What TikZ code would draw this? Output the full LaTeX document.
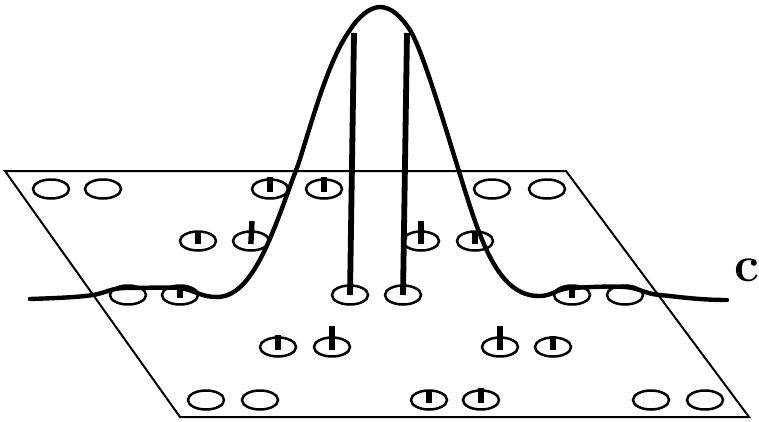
\documentclass[tikz,border=0pt]{standalone}
\usepackage{xcolor}
\usetikzlibrary{shapes.geometric}

\begin{document}
\begin{tikzpicture}[
      x=1pt, y=-1pt,
      hole/.style={draw, ellipse, line width=2.5pt, inner sep=0pt, minimum width=36pt, minimum height=19pt},
      stem/.style={line width=5.4pt, shorten <=-3pt},
      pillar/.style={line width=5.8pt},
      plate/.style={line width=2pt, line join=miter},
      curve/.style={line width=4.4pt, line cap=round, line join=round}
    ]
    \useasboundingbox (0,0) rectangle (759,421);

    \draw[plate] (5,171) -- (566,171) -- (749,417) -- (180,417) -- cycle;

    % rows of holes, back to front
    \node[hole] (a1) at (51,189) {};
    \node[hole] (a2) at (103,189) {};
    \node[hole] (a3) at (270,189) {};
    \node[hole] (a4) at (324,189) {};
    \node[hole] (a5) at (492,189) {};
    \node[hole] (a6) at (547,189) {};

    \node[hole] (b1) at (198,241) {};
    \node[hole] (b2) at (251,241) {};
    \node[hole] (b3) at (421,241) {};
    \node[hole] (b4) at (475,241) {};

    \node[hole] (m1) at (128,295) {};
    \node[hole] (m2) at (180,295) {};
    \node[hole] (m3) at (350,295) {};
    \node[hole] (m4) at (403,295) {};
    \node[hole] (m5) at (572,295) {};
    \node[hole] (m6) at (625,295) {};

    \node[hole] (d1) at (278,347) {};
    \node[hole] (d2) at (332,347) {};
    \node[hole] (d3) at (500,347) {};
    \node[hole] (d4) at (553,347) {};

    \node[hole] (e1) at (206,400) {};
    \node[hole] (e2) at (260,400) {};
    \node[hole] (e3) at (429,400) {};
    \node[hole] (e4) at (481,400) {};
    \node[hole] (e5) at (651,400) {};
    \node[hole] (e6) at (705,400) {};

    % stem tips
    \coordinate (ta3) at (270,177);
    \coordinate (ta4) at (324,177);
    \coordinate (tb1) at (198,231);
    \coordinate (tb2) at (252,221);
    \coordinate (tb3) at (421,221);
    \coordinate (tb4) at (475,231);
    \coordinate (tm2) at (180,289);
    \coordinate (tm5) at (572,287);
    \coordinate (td1) at (278,335);
    \coordinate (td2) at (332,326);
    \coordinate (td3) at (500,326);
    \coordinate (td4) at (553,336);
    \coordinate (te3) at (429,390);
    \coordinate (te4) at (481,388);
    \coordinate (tm3) at (354,33);
    \coordinate (tm4) at (407,33);

    \draw[stem] (a3.center) -- (ta3);
    \draw[stem] (a4.center) -- (ta4);
    \draw[stem] (b1.center) -- (tb1);
    \draw[stem] (b2.center) -- (tb2);
    \draw[stem] (b3.center) -- (tb3);
    \draw[stem] (b4.center) -- (tb4);
    \draw[stem] (m2.center) -- (tm2);
    \draw[stem] (m5.center) -- (tm5);
    \draw[stem] (d1.center) -- (td1);
    \draw[stem] (d2.center) -- (td2);
    \draw[stem] (d3.center) -- (td3);
    \draw[stem] (d4.center) -- (td4);
    \draw[stem] (e3.center) -- (te3);
    \draw[stem] (e4.center) -- (te4);
    \draw[pillar] (m3.center) -- (tm3);
    \draw[pillar] (m4.center) -- (tm4);

    \draw[curve] (30,299) .. controls (60,298) and (80,297) .. (93,295)
      .. controls (105,293) and (112,288) .. (125,288)
      .. controls (145,288) and (165,287) .. (180,288)
      .. controls (195,290) and (200,297) .. (217,297)
      .. controls (255,297) and (275,225) .. (298,165)
      .. controls (312,122) and (328,60) .. (350,30)
      .. controls (358,17) and (370,7) .. (380,7)
      .. controls (392,7) and (402,18) .. (410,30)
      .. controls (422,50) and (440,110) .. (457,165)
      .. controls (478,232) and (495,297) .. (540,296)
      .. controls (552,296) and (558,288) .. (572,288)
      .. controls (590,287) and (610,286) .. (625,287)
      .. controls (640,288) and (645,294) .. (660,295)
      .. controls (680,297) and (700,300) .. (727,300);

    \node[font=\fontsize{50}{50}\selectfont\bfseries, inner sep=0pt] (lab) at (747,270) {c};
  \end{tikzpicture}
\end{document}
